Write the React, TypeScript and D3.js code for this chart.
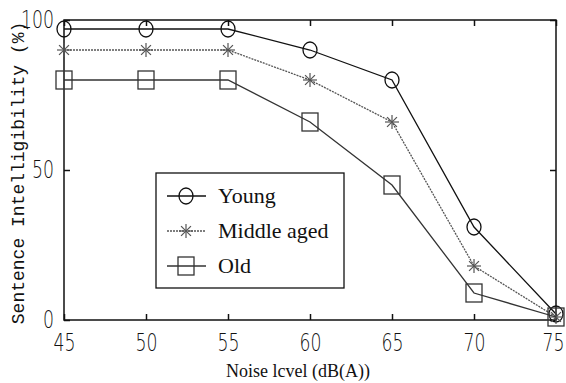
import { useRef, useEffect } from "react";
import * as d3 from "d3";

const noise = [45, 50, 55, 60, 65, 70, 75];
const young = [97, 97, 97, 90, 80, 31, 2];
const middle = [90, 90, 90, 80, 66, 18, 1];
const old = [80, 80, 80, 66, 45, 9, 1];
const groups = ["Young", "Middle aged", "Old"];
const xTicks = [45, 50, 55, 60, 65, 70, 75];
const yTicks = [0, 50, 100];

function App() {
  const svgRef = useRef<SVGSVGElement>(null);

  useEffect(() => {
    const w = 566;
    const h = 383;
    const m = { left: 64, right: 10, top: 20, bottom: 63 };
    const svg = d3.select(svgRef.current).attr("width", w).attr("height", h);
    svg.selectAll("*").remove();

    const x = d3.scaleLinear().domain([45, 75]).range([m.left, w - m.right]);
    const y = d3.scaleLinear().domain([0, 100]).range([h - m.bottom, m.top]);
    const serif = "Liberation Serif";

    // frame
    svg
      .append("rect")
      .attr("x", x(45))
      .attr("y", y(100))
      .attr("width", x(75) - x(45))
      .attr("height", y(0) - y(100))
      .attr("fill", "none")
      .attr("stroke", "#111")
      .attr("stroke-width", 1.5);

    // axes with inward ticks
    const bottom = svg.append("g").attr("transform", `translate(0,${y(0)})`)
      .call(d3.axisBottom(x).tickValues(xTicks).tickSize(-6).tickPadding(14).tickFormat(d3.format("d")));
    const top = svg.append("g").attr("transform", `translate(0,${y(100)})`)
      .call(d3.axisTop(x).tickValues(xTicks).tickSize(-6).tickFormat(() => ""));
    const left = svg.append("g").attr("transform", `translate(${x(45)},0)`)
      .call(d3.axisLeft(y).tickValues(yTicks).tickSize(-6).tickPadding(10).tickFormat(d3.format("d")));
    const right = svg.append("g").attr("transform", `translate(${x(75)},0)`)
      .call(d3.axisRight(y).tickValues(yTicks).tickSize(-6).tickFormat(() => ""));
    [bottom, top, left, right].forEach((g) => {
      g.select(".domain").remove();
      g.selectAll("line").attr("stroke", "#111").attr("stroke-width", 1.5);
      g.selectAll("text")
        .attr("font-family", "DejaVu Sans, sans-serif")
        .attr("font-weight", 300)
        .attr("font-size", 24)
        .attr("fill", "#111")
        .attr("textLength", function () {
          return (this as SVGTextElement).textContent!.length * 11;
        })
        .attr("lengthAdjust", "spacingAndGlyphs");
    });
    // last x label sits against the right edge
    bottom.selectAll<SVGTextElement, number>("text").filter((d) => d === 75)
      .attr("text-anchor", "end").attr("dx", 8);

    const line = d3
      .line<number>()
      .x((d, i) => x(noise[i]))
      .y((d) => y(d));

    const series = [
      { vals: young, color: "#111", dash: null, marker: "circle" },
      { vals: middle, color: "#555", dash: "2,1", marker: "star" },
      { vals: old, color: "#333", dash: null, marker: "square" },
    ];

    const drawMarker = (g: any, kind: string, cx: number, cy: number, color: string) => {
      if (kind === "circle") {
        g.append("ellipse").attr("cx", cx).attr("cy", cy).attr("rx", 7).attr("ry", 8)
          .attr("fill", "none").attr("stroke", color).attr("stroke-width", 1.3);
      } else if (kind === "square") {
        g.append("rect").attr("x", cx - 8).attr("y", cy - 9).attr("width", 16).attr("height", 18)
          .attr("fill", "none").attr("stroke", color).attr("stroke-width", 1.3);
      } else {
        const r = 7;
        [0, 45, 90, 135].forEach((a) => {
          const rad = (a * Math.PI) / 180;
          g.append("line")
            .attr("x1", cx - r * Math.cos(rad)).attr("y1", cy - r * Math.sin(rad))
            .attr("x2", cx + r * Math.cos(rad)).attr("y2", cy + r * Math.sin(rad))
            .attr("stroke", color).attr("stroke-width", 1.2);
        });
      }
    };

    series.forEach((s) => {
      svg.append("path").datum(s.vals).attr("d", line).attr("fill", "none")
        .attr("stroke", s.color).attr("stroke-width", 1.3)
        .attr("stroke-dasharray", s.dash);
      const g = svg.append("g");
      s.vals.forEach((v, i) => drawMarker(g, s.marker, x(noise[i]), y(v), s.color));
    });

    // legend
    const lg = svg.append("g");
    lg.append("rect").attr("x", 156).attr("y", 173).attr("width", 188).attr("height", 115)
      .attr("fill", "#fff").attr("stroke", "#111").attr("stroke-width", 1.3);
    groups.forEach((name, i) => {
      const ly = 196 + i * 35;
      const s = series[i];
      lg.append("line").attr("x1", 167).attr("x2", 206).attr("y1", ly).attr("y2", ly)
        .attr("stroke", s.color).attr("stroke-width", 1.3).attr("stroke-dasharray", s.dash);
      drawMarker(lg, s.marker, 186, ly, s.color);
      lg.append("text").attr("x", 218).attr("y", ly + 7).text(name)
        .attr("font-family", serif)
        .attr("font-size", 22).attr("fill", "#111");
    });

    // titles
    svg.append("text").attr("x", 298).attr("y", 377).attr("text-anchor", "middle")
      .attr("font-family", serif)
      .attr("font-size", 18).attr("fill", "#111").text("Noise lcvel (dB(A))");
    svg.append("text")
      .attr("transform", `translate(24,${(y(0) + y(100)) / 2 + 3}) rotate(-90)`)
      .attr("text-anchor", "middle")
      .attr("font-family", "Liberation Mono")
      .attr("font-size", 18).attr("fill", "#111")
      .text("Sentence Intelligibility (%)");
  }, []);

  return <svg ref={svgRef} style={{ position: "absolute", left: 0, top: 0 }}></svg>;
}

export default App;
